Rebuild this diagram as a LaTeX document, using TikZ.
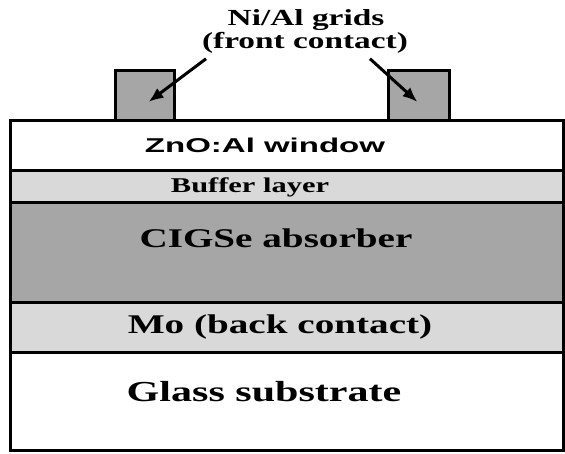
\documentclass[tikz,border=0pt]{standalone}
\usepackage{fontspec}
\setmainfont{Liberation Serif}[FakeStretch=1.45]
\setsansfont{Liberation Sans}[FakeStretch=1.65]
\usetikzlibrary{arrows.meta}
\definecolor{absgray}{HTML}{A6A6A6}
\definecolor{thingray}{HTML}{D9D9D9}
\tikzset{
  layer/.style={draw, line width=3pt, anchor=north west, inner sep=0pt,
                outer sep=0pt, minimum width=553pt},
  gridbox/.style={layer, fill=absgray, minimum width=59pt, minimum height=50pt},
  txt/.style={font=\bfseries\fontsize{#1}{#1}\selectfont, inner sep=0pt},
  ptr/.style={-{Latex[length=15pt,width=12pt]}, line width=3pt},
}

\begin{document}
\begin{tikzpicture}[x=1pt, y=-1pt]
  \useasboundingbox (0,0) rectangle (565,453);
  % front contact grids
  \node[gridbox] (gl) at (115,70) {};
  \node[gridbox, minimum width=61pt] (gr) at (388,70) {};
  % layer stack
  \node[layer, fill=white, minimum height=50pt] (zno) at (10,120) {};
  \node[layer, fill=thingray, minimum height=32pt] (buf) at (10,170) {};
  \node[layer, fill=absgray, minimum height=100pt] (abs) at (10,202) {};
  \node[layer, fill=thingray, minimum height=50pt] (mo) at (10,302) {};
  \node[layer, fill=white, minimum height=98pt] (glass) at (10,352) {};
  % labels
  \node[txt=23] (t1) at (306,20) {Ni/Al grids};
  \node[txt=23] (t2) at (305,43) {(front contact)};
  \node[font=\sffamily\bfseries\fontsize{20}{20}\selectfont, inner sep=0pt] (lzno) at (265,145) {ZnO:Al window};
  \node[txt=21] (lbuf) at (250,187) {Buffer layer};
  \node[txt=27] (labs) at (276,238) {CIGSe absorber};
  \node[txt=27] (lmo) at (280,327) {Mo (back contact)};
  \node[txt=29] (lgl) at (264,392) {Glass substrate};
  % arrows
  \draw[ptr] ([xshift=-99pt, yshift=-5pt]t2.south) -- ([xshift=4pt, yshift=-7pt]gl.center);
  \draw[ptr] ([xshift=65pt, yshift=-5pt]t2.south) -- ([xshift=-1pt, yshift=-7pt]gr.center);
\end{tikzpicture}
\end{document}
